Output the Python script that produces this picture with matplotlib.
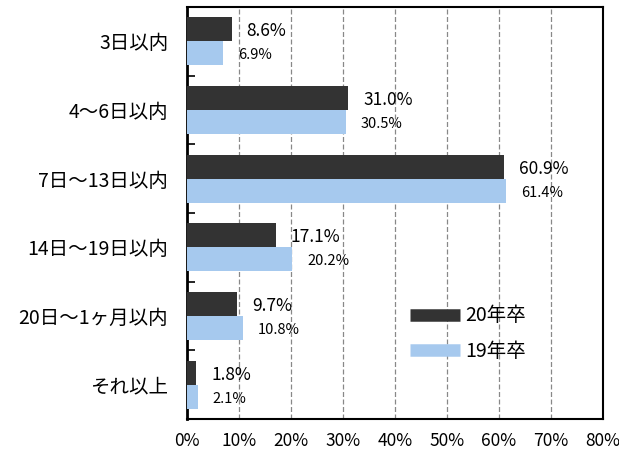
import matplotlib
matplotlib.use("Agg")
import matplotlib.pyplot as plt
from matplotlib.lines import Line2D
import numpy as np

plt.rcParams['font.family'] = ['Noto Sans CJK JP', 'DejaVu Sans']

# データ
categories = ["3日以内", "4〜6日以内", "7日〜13日以内", "14日〜19日以内", "20日〜1ヶ月以内", "それ以上"]
grad20 = [8.6, 31.0, 60.9, 17.1, 9.7, 1.8]
grad19 = [6.9, 30.5, 61.4, 20.2, 10.8, 2.1]
series_names = ["20年卒", "19年卒"]
xticks = [0, 10, 20, 30, 40, 50, 60, 70, 80]

dark = "#333333"
light = "#A6C9EE"

fig = plt.figure(figsize=(6.19, 4.54), dpi=100)
ax = fig.add_axes([187 / 619, 1 - 419 / 454, 416 / 619, 412 / 454])

y = np.arange(len(categories))
h = 0.35
ax.barh(y - h / 2, grad20, height=h, color=dark, zorder=3)
ax.barh(y + h / 2, grad19, height=h, color=light, zorder=3)

for yi, v in zip(y, grad20):
    ax.annotate(f"{v:.1f}%", (v, yi - h / 2), xytext=(15, -2), textcoords="offset pixels",
                ha="left", va="center", fontsize=12.5)
for yi, v in zip(y, grad19):
    ax.annotate(f"{v:.1f}%", (v, yi + h / 2), xytext=(15, -2), textcoords="offset pixels",
                ha="left", va="center", fontsize=10.5)

ax.set_xlim(0, 80)
ax.set_ylim(len(categories) - 0.5, -0.5)
ax.set_xticks(xticks)
ax.set_xticklabels([f"{t}%" for t in xticks], fontsize=12.5)
ax.set_yticks(y)
ax.set_yticklabels(categories, fontsize=14)
ax.set_yticks(np.arange(0.5, len(categories) - 1, 1), minor=True)
ax.tick_params(axis="y", which="major", length=0, pad=13.5)
ax.tick_params(axis="y", which="minor", direction="in", length=6, width=1.2)
ax.tick_params(axis="x", length=0, pad=9)

ax.xaxis.grid(True, linestyle=(0, (4, 2)), color="#888888", linewidth=0.9, zorder=0)
for s in ax.spines.values():
    s.set_linewidth(1.5)
    s.set_color("black")
ax.spines["left"].set_linewidth(2)

handles = [Line2D([], [], color=dark, lw=9, solid_capstyle="butt"),
           Line2D([], [], color=light, lw=9, solid_capstyle="butt")]
ax.legend(handles, series_names, loc="center left", bbox_to_anchor=(0.536, 0.207),
          frameon=False, fontsize=14, handlelength=2.55, handletextpad=0.3,
          labelspacing=0.75, borderaxespad=0, borderpad=0)

fig.savefig("out.png", dpi=100)
